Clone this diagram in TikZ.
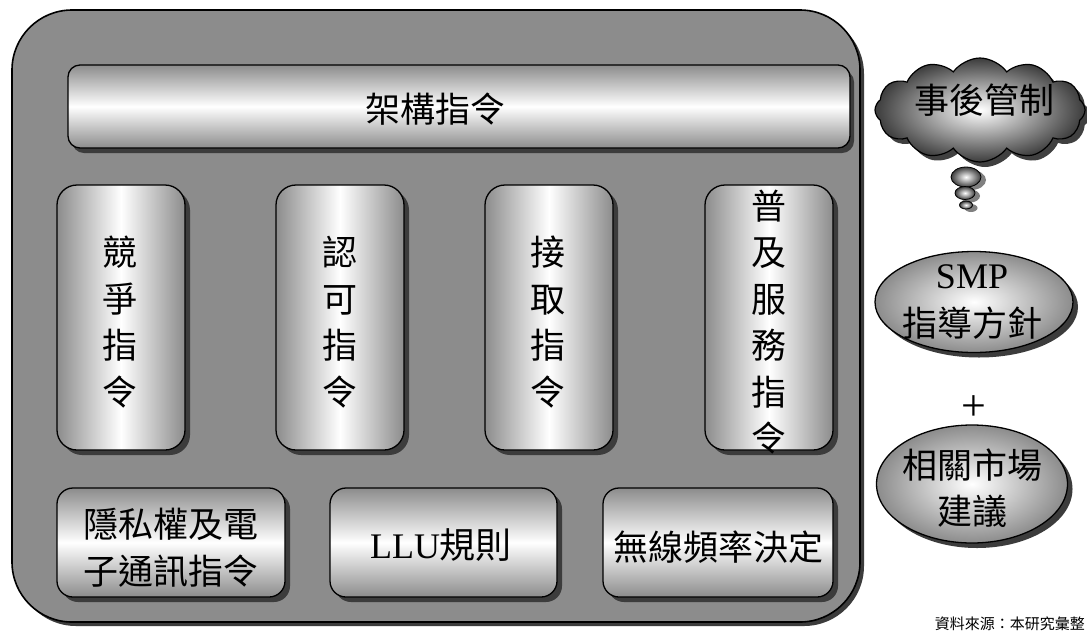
\documentclass[tikz,border=0pt]{standalone}
\usepackage{fontspec}
\setmainfont{Liberation Serif}
\newfontfamily\cjk{Noto Sans CJK TC}
\usetikzlibrary{shadows,shapes.geometric,shapes.symbols}
\definecolor{bggray}{RGB}{140,140,140}
\definecolor{boxgray}{RGB}{140,140,140}
\definecolor{shadowgray}{RGB}{60,60,60}
\tikzset{
  outerbox/.style={draw=black, line width=1.6pt, rounded corners=60pt, fill=bggray,
    drop shadow={shadow xshift=4pt, shadow yshift=-4pt, fill=shadowgray, opacity=1}},
  hbar/.style={draw=black, line width=1.3pt, rounded corners=12pt,
    top color=boxgray, bottom color=boxgray, middle color=white,
    drop shadow={shadow xshift=4pt, shadow yshift=-5pt, fill=shadowgray, opacity=1}},
  vbar/.style={draw=black, line width=1.3pt, rounded corners=20pt,
    left color=boxgray, right color=boxgray, middle color=white,
    drop shadow={shadow xshift=5pt, shadow yshift=-5pt, fill=shadowgray, opacity=1}},
  lowbox/.style={draw=black, line width=1.3pt, rounded corners=16pt,
    top color=boxgray, bottom color=boxgray, middle color=white,
    drop shadow={shadow xshift=5pt, shadow yshift=-5pt, fill=shadowgray, opacity=1}},
  oval/.style={ellipse, draw=black, line width=1.3pt, inner color=white, outer color=boxgray,
    drop shadow={shadow xshift=5pt, shadow yshift=-5pt, fill=shadowgray, opacity=1}},
  bubble/.style={ellipse, draw=black, line width=0.8pt, inner color=white, outer color=shadowgray,
    drop shadow={shadow xshift=5pt, shadow yshift=-3pt, fill=gray, opacity=1}},
  cjktext/.style={font=\cjk\fontsize{35}{46.5}\selectfont, align=center, inner sep=0pt, text=black},
  cjktextb/.style={font=\cjk\fontsize{35}{47}\selectfont, align=center, inner sep=0pt, text=black},
}
\begin{document}
\begin{tikzpicture}[x=1pt, y=-1pt]
\useasboundingbox (0,0) rectangle (1087,633);
\fill[white] (0,0) rectangle (1087,633);

% outer frame
\node[outerbox, minimum width=848pt, minimum height=612pt] (outer) at (436,316) {};

% top bar
\node[hbar, minimum width=782pt, minimum height=83pt] (top) at (459,106.5) {};
\node[cjktext] (toptext) at (435,109) {架構指令};

% vertical bars
\node[vbar, minimum width=128pt, minimum height=265pt] (v1) at (121,317.5) {};
\node[vbar, minimum width=128pt, minimum height=265pt] (v2) at (340,317.5) {};
\node[vbar, minimum width=128pt, minimum height=265pt] (v3) at (549,317.5) {};
\node[vbar, minimum width=128pt, minimum height=265pt] (v4) at (769,317.5) {};
\node[cjktext] (v1t) at (120,322) {競\\爭\\指\\令};
\node[cjktext] (v2t) at (340,322) {認\\可\\指\\令};
\node[cjktext] (v3t) at (548,322) {接\\取\\指\\令};
\node[cjktext] (v4t) at (769,322) {普\\及\\服\\務\\指\\令};

% bottom boxes
\node[lowbox, minimum width=228pt, minimum height=109pt] (b1) at (171,542.5) {};
\node[lowbox, minimum width=227pt, minimum height=109pt] (b2) at (443.5,542.5) {};
\node[lowbox, minimum width=230pt, minimum height=109pt] (b3) at (718,542.5) {};
\node[cjktextb] (b1t) at (171,548) {隱私權及電\\子通訊指令};
\node[inner sep=0pt] (b2t) at (441,545) {\fontsize{36}{40}\selectfont LLU{\cjk 規則}};
\node[cjktext] (b3t) at (718,547) {無線頻率決定};

% cloud
\node[cloud, cloud puffs=12, cloud puff arc=110, aspect=2.2, draw=black, line width=1.2pt,
  inner color=white, outer color=shadowgray, minimum width=210pt, minimum height=104pt,
  drop shadow={shadow xshift=5pt, shadow yshift=-5pt, fill=black!75, opacity=1}] (cloud) at (980,110) {};
\node[cjktext] (cloudt) at (984,100) {事後管制};
\node[bubble, minimum width=30pt, minimum height=20pt, inner sep=0pt] (bub1) at (966,177) {};
\node[bubble, minimum width=20pt, minimum height=13pt, inner sep=0pt] (bub2) at (965,193) {};
\node[bubble, minimum width=13pt, minimum height=8pt, inner sep=0pt] (bub3) at (966,205) {};

% ovals
\node[oval, minimum width=198pt, minimum height=101pt] (smp) at (974,302) {};
\node[inner sep=0pt, font=\fontsize{36}{40}\selectfont] (smpt1) at (972,277) {SMP};
\node[cjktext] (smpt2) at (972,323) {指導方針};
\node[inner sep=0pt, font=\fontsize{44}{44}\selectfont] (plus) at (974,408) {+};
\node[oval, minimum width=191pt, minimum height=118pt] (mkt) at (972,484) {};
\node[cjktext] (mktt) at (972,488) {相關市場\\建議};

% source note
\node[font=\cjk\fontsize{15}{18}\selectfont, inner sep=0pt, anchor=south east] (src) at (1085,631) {資料來源：本研究彙整};
\end{tikzpicture}
\end{document}
